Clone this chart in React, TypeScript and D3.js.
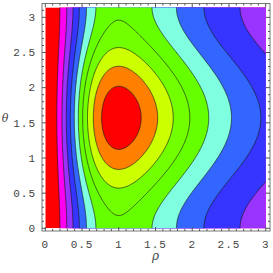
import React, { useMemo } from "react";
import * as d3 from "d3";

// ---- data ----
const rhoDomain = [0, 3];
const thetaDomain = [0, Math.PI];
// plotted function: z = fieldScale * rho^2 (1 + thetaWeight sin^2 theta) / (1 + rho^2)^2
const fieldScale = 27.5;
const thetaWeight = 0.56;
const contourLevels = [1, 2, 3, 4, 5, 6, 7, 8, 9, 10];
const regionColors = [
  "#ff0000",
  "#ff00f0",
  "#9933ff",
  "#3535ff",
  "#3366ff",
  "#80ffe0",
  "#66ff00",
  "#72ff00",
  "#ccff00",
  "#ff8000",
  "#ff0000",
];
const xTickValues = [0, 0.5, 1, 1.5, 2, 2.5, 3];
const xTickLabels = ["0", "0.5", "1", "1.5", "2", "2.5", "3"];
const yTickValues = [0, 0.5, 1, 1.5, 2, 2.5, 3];
const yTickLabels = ["0", "0.5", "1", "1.5", "2", "2.5", "3"];
const xAxisLabel = "ρ";
const yAxisLabel = "θ";

function field(rho: number, theta: number) {
  const q = 1 + rho * rho;
  const s = Math.sin(theta);
  return (fieldScale * rho * rho * (1 + thetaWeight * s * s)) / (q * q);
}

const W = 273;
const H = 273;
const PX0 = 45.3, PX1 = 265.7, PY0 = 228.3, PY1 = 7.4;
const FX0 = 42, FX1 = 270, FY0 = 3.5, FY1 = 231;

export default function App() {
  const x = d3.scaleLinear().domain(rhoDomain).range([PX0, PX1]);
  const y = d3.scaleLinear().domain(thetaDomain).range([PY0, PY1]);

  const paths = useMemo(() => {
    const nx = 260, ny = 260;
    const pad = 0.1;
    const r0 = rhoDomain[0] - pad, r1 = rhoDomain[1] + pad;
    const t0 = thetaDomain[0] - pad, t1 = thetaDomain[1] + pad;
    const dr = (r1 - r0) / (nx - 1);
    const dt = (t1 - t0) / (ny - 1);
    const values = new Array(nx * ny);
    for (let j = 0; j < ny; j++) {
      const th = t0 + j * dt;
      for (let i = 0; i < nx; i++) {
        values[j * nx + i] = field(r0 + i * dr, th);
      }
    }
    const cs = d3.contours().size([nx, ny]).thresholds(contourLevels)(values);
    return cs.map((c) => {
      let d = "";
      for (const poly of c.coordinates) {
        for (const ring of poly) {
          ring.forEach((p, k) => {
            const px = x(r0 + (p[0] - 0.5) * dr);
            const py = y(t0 + (p[1] - 0.5) * dt);
            d += (k === 0 ? "M" : "L") + px.toFixed(2) + "," + py.toFixed(2);
          });
          d += "Z";
        }
      }
      return d;
    });
  }, []);

  const minorX = d3.range(0, 3.0001, 0.1).filter((v) => Math.abs(v * 2 - Math.round(v * 2)) > 1e-6);
  const minorY = d3.range(0, 3.1001, 0.1).filter((v) => Math.abs(v * 2 - Math.round(v * 2)) > 1e-6);
  const tickCol = "#555";
  const labelStyle: React.CSSProperties = {
    fontFamily: "'Liberation Mono', monospace",
    fontSize: 11,
    fill: "#444",
    letterSpacing: 1,
  };

  return (
    <div style={{ position: "fixed", left: 0, top: 0 }}>
      <svg width={W} height={H} style={{ display: "block", background: "#fff" }}>
        <defs>
          <clipPath id="plotclip">
            <rect x={PX0} y={PY1} width={PX1 - PX0} height={PY0 - PY1} />
          </clipPath>
        </defs>
        <g clipPath="url(#plotclip)">
          <rect x={PX0} y={PY1} width={PX1 - PX0} height={PY0 - PY1} fill={regionColors[0]} />
          {paths.map((d, i) => (
            <path key={"f" + i} d={d} fill={regionColors[i + 1]} stroke="none" />
          ))}
          {paths.map((d, i) => (
            <path key={"s" + i} d={d} fill="none" stroke="#1a1a1a" strokeWidth={0.8} strokeOpacity={0.85} />
          ))}
        </g>
        <rect x={FX0} y={FY0} width={FX1 - FX0} height={FY1 - FY0} fill="none" stroke="#777" strokeWidth={1} />
        {xTickValues.map((v) => (
          <g key={"xt" + v}>
            <line x1={x(v)} x2={x(v)} y1={FY1} y2={FY1 - 4} stroke={tickCol} />
            <line x1={x(v)} x2={x(v)} y1={FY0} y2={FY0 + 4} stroke={tickCol} />
          </g>
        ))}
        {minorX.map((v) => (
          <g key={"xm" + v}>
            <line x1={x(v)} x2={x(v)} y1={FY1} y2={FY1 - 2} stroke={tickCol} />
            <line x1={x(v)} x2={x(v)} y1={FY0} y2={FY0 + 2} stroke={tickCol} />
          </g>
        ))}
        {yTickValues.map((v) => (
          <g key={"yt" + v}>
            <line x1={FX0} x2={FX0 + 4} y1={y(v)} y2={y(v)} stroke={tickCol} />
            <line x1={FX1} x2={FX1 - 4} y1={y(v)} y2={y(v)} stroke={tickCol} />
          </g>
        ))}
        {minorY.map((v) => (
          <g key={"ym" + v}>
            <line x1={FX0} x2={FX0 + 2} y1={y(v)} y2={y(v)} stroke={tickCol} />
            <line x1={FX1} x2={FX1 - 2} y1={y(v)} y2={y(v)} stroke={tickCol} />
          </g>
        ))}
        {xTickValues.map((v, i) => (
          <text key={"xl" + v} x={x(v)} y={247.5} textAnchor="middle" style={labelStyle}>
            {xTickLabels[i]}
          </text>
        ))}
        {yTickValues.map((v, i) => (
          <text key={"yl" + v} x={36} y={y(v) + 3.8} textAnchor="end" style={labelStyle}>
            {yTickLabels[i]}
          </text>
        ))}
        <text x={155.5} y={260} textAnchor="middle"
          style={{ fontFamily: "'DejaVu Serif', serif", fontStyle: "italic", fontSize: 12, fill: "#444" }}>
          {xAxisLabel}
        </text>
        <text x={5} y={122} textAnchor="middle"
          style={{ fontFamily: "'DejaVu Serif', serif", fontStyle: "italic", fontSize: 11, fill: "#444" }}>
          {yAxisLabel}
        </text>
      </svg>
    </div>
  );
}
